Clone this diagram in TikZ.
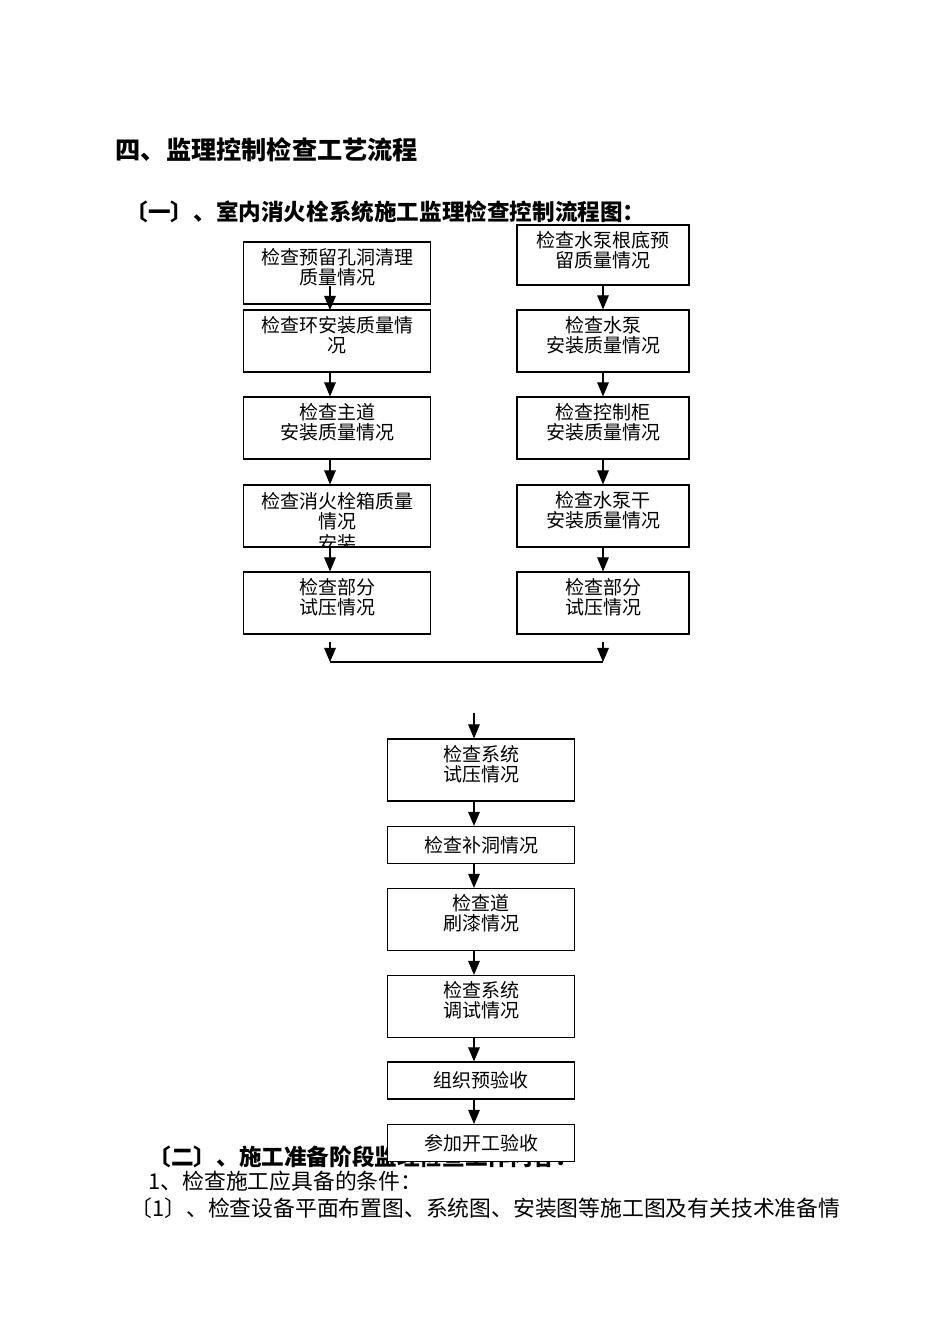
\documentclass[tikz,border=0pt]{standalone}
\usepackage{fontspec}
\setmainfont{Noto Sans CJK SC}
\usetikzlibrary{arrows,positioning}
\tikzset{%
  block/.style  = {draw, semithick, fill=white, rectangle, inner sep=0pt, minimum width=93.5pt, minimum height=31pt, font=\fontsize{9.5}{10}\selectfont},
  rblock/.style = {block, minimum width=86pt},
  lowblock/.style = {block, minimum height=18.5pt},
  txt/.style    = {font=\fontsize{9.5}{10}\selectfont, align=center, inner sep=0pt, anchor=north},
  head/.style   = {font=\bfseries, anchor=west, inner sep=0pt}
}
\begin{document}
\begin{tikzpicture}[x=0.5pt, y=-0.5pt, >=triangle 45, semithick]
  \useasboundingbox (0,0) rectangle (950,1344);
  % headings
  \node[head, font=\bfseries\fontsize{12.6}{14}\selectfont] (title) at (115,150) {四、监理控制检查工艺流程};
  \node[head, font=\bfseries\fontsize{11.3}{12}\selectfont] (sub1) at (125,212) {〔一〕、室内消火栓系统施工监理检查控制流程图：};
  \node[head, font=\bfseries\fontsize{11.3}{12}\selectfont] (sub2) at (148,1157) {〔二〕、施工准备阶段监理检查工作内容：};
  \node[head, font=\fontsize{10.9}{12}\selectfont] (item1) at (148,1181) {1、检查施工应具备的条件：};
  \node[head, font=\fontsize{10.9}{12}\selectfont] (item2) at (130,1208) {〔1〕、检查设备平面布置图、系统图、安装图等施工图及有关技术准备情};

  % left column
  \node[block] (l1) at (337,273) {};
  \node[txt] at ([yshift=-3pt]l1.north) {检查预留孔洞清理\\质量情况};
  \node[block] (l2) at (337,341) {};
  \node[txt] at ([yshift=-3pt]l2.north) {检查环安装质量情\\况};
  \node[block] (l3) at (337,428) {};
  \node[txt] at ([yshift=-3pt]l3.north) {检查主道\\安装质量情况};
  \node[block] (l4) at (337,516) {};
  \begin{scope}
    \clip (l4.south west) rectangle (l4.north east);
    \node[txt] at ([yshift=-3.5pt]l4.north) {检查消火栓箱质量\\情况\\[1pt]安装};
  \end{scope}
  \node[block] (l5) at (337,603) {};
  \node[txt] at ([yshift=-3pt]l5.north) {检查部分\\试压情况};

  % right column
  \node[rblock, minimum height=30pt] (r1) at (603,255) {};
  \node[txt] at ([yshift=-3pt]r1.north) {检查水泵根底预\\留质量情况};
  \node[rblock] (r2) at (603,341) {};
  \node[txt] at ([yshift=-3pt]r2.north) {检查水泵\\安装质量情况};
  \node[rblock] (r3) at (603,428) {};
  \node[txt] at ([yshift=-3pt]r3.north) {检查控制柜\\安装质量情况};
  \node[rblock] (r4) at (603,516) {};
  \node[txt] at ([yshift=-3pt]r4.north) {检查水泵干\\安装质量情况};
  \node[rblock] (r5) at (603,603) {};
  \node[txt] at ([yshift=-3pt]r5.north) {检查部分\\试压情况};

  \draw[->] (330,286) -- (330,310);
  \draw[->] (330,372) -- (l3.north -| 330,0);
  \draw[->] (330,459) -- (l4.north -| 330,0);
  \draw[->] (330,547) -- (l5.north -| 330,0);
  \draw[->] (r1) -- (r2);
  \draw[->] (r2) -- (r3);
  \draw[->] (r3) -- (r4);
  \draw[->] (r4) -- (r5);

  % merge
  \coordinate (ml) at (330,662);
  \coordinate (mr) at (603,662);
  \draw[->] (330,642) -- (ml);
  \draw[->] (603,642) -- (mr);
  \draw (ml) -- (mr);

  % centre column
  \node[block] (c1) at (481,770) {};
  \node[txt] at ([yshift=-3pt]c1.north) {检查系统\\试压情况};
  \node[lowblock] (c2) at (481,845) {检查补洞情况};
  \node[block] (c3) at (481,919.5) {};
  \node[txt] at ([yshift=-3pt]c3.north) {检查道\\刷漆情况};
  \node[block] (c4) at (481,1006.5) {};
  \node[txt] at ([yshift=-3pt]c4.north) {检查系统\\调试情况};
  \node[lowblock] (c5) at (481,1080.5) {组织预验收};
  \node[lowblock] (c6) at (481,1143) {参加开工验收};

  \coordinate (ctop) at (474,713);
  \draw[->] (ctop) -- (c1.north -| ctop);
  \draw[->] (c1.south -| ctop) -- (c2.north -| ctop);
  \draw[->] (c2.south -| ctop) -- (c3.north -| ctop);
  \draw[->] (c3.south -| ctop) -- (c4.north -| ctop);
  \draw[->] (c4.south -| ctop) -- (c5.north -| ctop);
  \draw[->] (c5.south -| ctop) -- (c6.north -| ctop);
\end{tikzpicture}
\end{document}
